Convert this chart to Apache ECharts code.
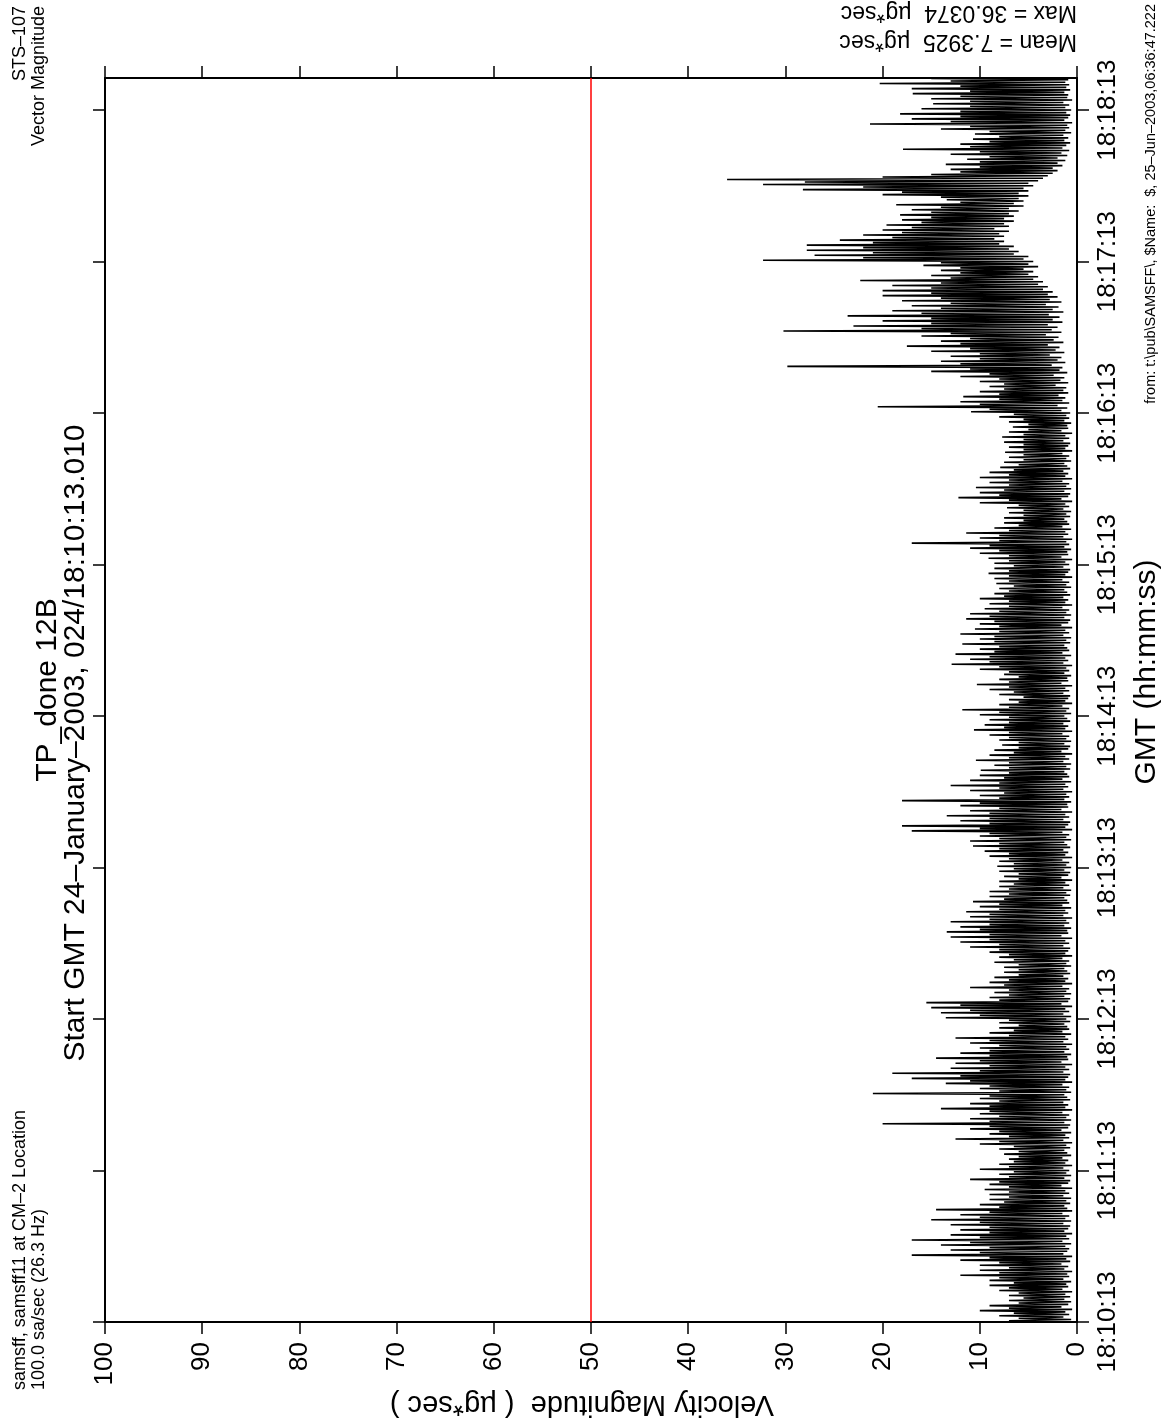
<!DOCTYPE html>
<html><head><meta charset="utf-8">
<script src="https://cdn.jsdelivr.net/npm/echarts@6/dist/echarts.min.js"></script>
<style>html,body{margin:0;padding:0;background:#fff;overflow:hidden}#chart{width:1164px;height:1428px}</style>
</head><body><div id="chart"></div>
<script>
const FONT = '"Liberation Sans", Arial, Helvetica, sans-serif';

// one-second bins (seconds after 18:10:13.010): upper and lower envelope of the 100 sa/sec trace
const binStartSec = 0;
const binWidthSec = 1;
const magnitudeUpper = [
  7, 6, 8, 6.5, 10, 7, 9, 6, 7, 5.5,
  7, 6, 8, 7, 9, 6.5, 9, 8, 12, 8,
  10, 7, 10, 8, 12, 9, 17, 10, 13, 9,
  14, 11, 17, 10, 13, 9, 12, 9, 13, 10,
  15, 10, 12, 9, 14.5, 8, 10, 7.5, 9, 7,
  9, 7, 9.5, 7, 9, 8, 11, 7, 8, 6.5,
  10, 7, 8, 6.5, 7, 6, 7.5, 6, 8, 6.5,
  10, 8, 12.5, 7, 9, 8, 11, 9, 20, 9,
  11, 8, 10, 9, 14, 9, 11, 8, 10, 9,
  21, 8, 10, 9, 13.5, 11, 17, 12, 19, 10,
  13, 9, 12.5, 10, 14.5, 9, 12, 9, 10, 8,
  11, 9, 12.5, 7, 9, 6.5, 8, 6, 8, 7,
  13.5, 10, 14, 11, 15, 12, 15.5, 8, 9, 7,
  8.5, 7, 11, 7.5, 9, 7, 8.5, 6, 7.5, 6,
  7.5, 6, 8.5, 6.5, 8, 7, 9, 8, 11, 8,
  12, 9, 13, 9, 13.4, 10, 12, 9, 13, 9,
  11, 9, 11.4, 8, 10, 8, 10.7, 7.5, 9, 7,
  9, 7, 8, 6.5, 8, 6, 7.5, 6, 8, 6.5,
  8.2, 6.5, 8, 7, 9, 7, 9.5, 8, 10.7, 8,
  11, 8, 10, 9, 17, 10, 18, 9, 12, 9,
  13.4, 9, 11, 8, 12, 10, 18, 8, 10, 7.5,
  11, 8, 13, 8, 11, 7.5, 10, 7, 9.9, 7,
  8.5, 7, 10.4, 7, 9, 6.5, 8.5, 6, 7.7, 6,
  8, 7, 9, 7, 10.6, 7.5, 9.5, 7, 9, 7,
  10, 8, 11.8, 7, 8, 6, 7, 5.5, 8, 6.5,
  9, 7, 10.3, 7, 8, 6, 7.5, 7, 10, 8,
  12.9, 9, 11, 9, 12.5, 8.5, 10, 8, 11.8, 8.5,
  10, 8.5, 12, 8, 10.5, 8, 10, 8.5, 11.4, 9,
  11, 8, 9.5, 7, 9, 7, 10, 7.5, 8.5, 7,
  8, 6.5, 8.3, 7, 8.5, 7, 9.1, 7, 8.5, 6.5,
  8.5, 7, 9.1, 7, 10, 8, 11, 9, 17, 8,
  10, 8, 11.4, 7, 8.5, 6, 7.5, 5.5, 7.5, 5.5,
  7, 5.5, 7.2, 6, 10, 7, 12.2, 8, 10, 7.5,
  10.4, 7, 9, 7, 10, 7, 9, 6.5, 7.9, 6,
  7.5, 5.5, 7, 5.5, 7.4, 5.5, 7, 5.5, 7.5, 5.5,
  7.7, 5.5, 7, 5, 6.6, 5, 7, 5.5, 8, 6.5,
  10.9, 9, 20.5, 10, 12, 8, 11.7, 8, 10, 7.5,
  9, 7.5, 10, 8, 12, 9, 15, 11, 29.8, 12,
  14, 10, 13, 10, 15, 11, 17.5, 12, 14, 11,
  16, 13, 30.2, 16, 23, 15, 20, 15, 23.6, 16,
  19, 14, 17, 13, 18, 14, 20, 15, 20, 15,
  19, 14, 22.3, 13, 15, 12, 14, 12, 15.8, 14,
  32.3, 22, 27, 21, 27.8, 22, 27.8, 21, 24.4, 19,
  22, 18, 20, 17, 19.6, 16, 18, 15, 18.2, 15,
  17, 14, 18.6, 12, 13.4, 14, 20, 18, 28.2, 22,
  32.3, 28, 36, 20, 15, 12, 13, 10, 13.5, 10,
  11.3, 9, 13, 10, 17.9, 11, 12, 9, 10.7, 8,
  10.5, 9, 14, 11, 21.3, 13, 17, 12, 18.2, 12,
  16, 11, 14.8, 11, 15, 12, 16.9, 11, 17, 12,
  20.3, 13, 15
];
const magnitudeLower = [
  1.0, 0.6, 1.4, 0.8, 1.2, 0.5, 1.6, 0.9, 0.6, 1.3,
  0.7, 1.2, 0.5, 1.5, 0.9, 1.1, 0.6, 1.4, 0.8, 1.0,
  0.5, 1.3, 0.9, 1.6, 0.7, 1.1, 0.5, 1.4, 1.0, 0.8,
  1.2, 0.6, 1.5, 0.8, 1.1, 0.5, 1.3, 0.9, 0.7, 1.4,
  0.6, 1.2, 0.8, 1.5, 0.5, 1.0, 1.3, 0.7, 1.1, 0.6,
  1.4, 0.8, 1.2, 0.5, 1.6, 0.9, 0.7, 1.3, 0.6, 1.1,
  0.8, 1.4, 0.5, 1.2, 0.9, 1.5, 0.6, 1.0, 1.3, 0.7,
  1.1, 0.5, 1.4, 0.8, 1.2, 0.6, 1.6, 0.9, 0.7, 1.3,
  0.6, 1.1, 0.8, 1.5, 0.5, 1.2, 0.9, 1.4, 0.7, 1.0,
  1.3, 0.6, 1.1, 0.8, 1.5, 0.5, 1.2, 0.9, 0.7, 1.4,
  0.8, 1.2, 0.5, 1.6, 0.9, 1.0, 0.6, 1.3, 0.8, 1.1,
  0.5, 1.4, 0.9, 1.2, 0.6, 1.5, 0.8, 1.0, 1.3, 0.7,
  1.1, 0.6, 1.4, 0.8, 1.2, 0.5, 1.6, 0.9, 0.7, 1.3,
  0.6, 1.1, 0.8, 1.5, 0.5, 1.2, 0.9, 1.4, 0.7, 1.0,
  1.3, 0.6, 1.1, 0.8, 1.5, 0.5, 1.2, 0.9, 0.7, 1.4,
  0.8, 1.2, 0.5, 1.6, 0.9, 1.0, 0.6, 1.3, 0.8, 1.1,
  0.5, 1.4, 0.9, 1.2, 0.6, 1.5, 0.8, 1.0, 1.3, 0.7,
  1.1, 0.6, 1.4, 0.8, 1.2, 0.5, 1.6, 0.9, 0.7, 1.3,
  0.6, 1.1, 0.8, 1.5, 0.5, 1.2, 0.9, 1.4, 0.7, 1.0,
  1.3, 0.6, 1.1, 0.8, 1.5, 0.5, 1.2, 0.9, 0.7, 1.4,
  0.8, 1.2, 0.5, 1.6, 0.9, 1.0, 0.6, 1.3, 0.8, 1.1,
  0.5, 1.4, 0.9, 1.2, 0.6, 1.5, 0.8, 1.0, 1.3, 0.7,
  1.1, 0.6, 1.4, 0.8, 1.2, 0.5, 1.6, 0.9, 0.7, 1.3,
  0.6, 1.1, 0.8, 1.5, 0.5, 1.2, 0.9, 1.4, 0.7, 1.0,
  1.3, 0.6, 1.1, 0.8, 1.5, 0.5, 1.2, 0.9, 0.7, 1.4,
  0.8, 1.2, 0.5, 1.6, 0.9, 1.0, 0.6, 1.3, 0.8, 1.1,
  0.5, 1.4, 0.9, 1.2, 0.6, 1.5, 0.8, 1.0, 1.3, 0.7,
  1.1, 0.6, 1.4, 0.8, 1.2, 0.5, 1.6, 0.9, 0.7, 1.3,
  0.6, 1.1, 0.8, 1.5, 0.5, 1.2, 0.9, 1.4, 0.7, 1.0,
  1.3, 0.6, 1.1, 0.8, 1.5, 0.5, 1.2, 0.9, 0.7, 1.4,
  0.8, 1.2, 0.5, 1.6, 0.9, 1.0, 0.6, 1.3, 0.8, 1.1,
  0.5, 1.4, 0.9, 1.2, 0.6, 1.5, 0.8, 1.0, 1.3, 0.7,
  1.1, 0.6, 1.4, 0.8, 1.2, 0.5, 1.6, 0.9, 0.7, 1.3,
  0.6, 1.1, 0.8, 1.5, 0.5, 1.2, 0.9, 1.4, 0.7, 1.0,
  1.3, 0.6, 1.1, 0.8, 1.5, 0.5, 1.2, 0.9, 0.7, 1.4,
  0.8, 1.2, 0.5, 1.6, 0.9, 1.0, 0.6, 1.3, 0.8, 1.1,
  0.7, 1.6, 1.0, 2.0, 0.8, 1.5, 1.2, 1.9, 0.9, 1.4,
  1.1, 2.2, 0.9, 1.7, 1.3, 2.4, 1.0, 1.8, 1.5, 2.6,
  1.2, 2.0, 1.6, 2.8, 1.3, 2.2, 1.8, 3.0, 1.4, 2.4,
  1.9, 3.2, 1.6, 2.6, 2.0, 3.0, 1.5, 2.5, 1.8, 2.9,
  1.4, 2.5, 1.9, 3.2, 1.6, 2.8, 2.0, 3.0, 2.5, 3.5,
  3.0, 4.0, 3.5, 4.5, 4.0, 5.0, 4.5, 5.5, 4.0, 5.0,
  4.5, 5.5, 5.0, 6.5, 6.0, 7.0, 6.5, 8.0, 7.5, 8.5,
  7.5, 8.0, 7.0, 8.5, 7.0, 7.5, 6.5, 7.5, 6.5, 7.0,
  6.0, 7.0, 5.5, 6.5, 5.5, 6.0, 5.0, 6.0, 5.0, 5.5,
  4.5, 5.0, 4.0, 3.5, 3.0, 2.5, 2.0, 2.5, 1.5, 2.0,
  1.2, 2.0, 1.0, 1.6, 0.8, 1.5, 1.1, 0.7, 1.3, 0.9,
  1.4, 0.6, 1.2, 0.8, 1.0, 0.5, 1.3, 0.9, 0.7, 1.1,
  0.6, 1.2, 0.8, 1.4, 0.5, 1.0, 0.9, 1.3, 0.7, 1.1,
  0.8, 1.2, 0.9
];

const valueMin = 0, valueMax = 100, valueStep = 10;
const timeMaxSec = 492.7;
const timeTickSec = [0, 60, 120, 180, 240, 300, 360, 420, 480];
const timeTickLabels = ['18:10:13', '18:11:13', '18:12:13', '18:13:13', '18:14:13', '18:15:13', '18:16:13', '18:17:13', '18:18:13'];
const thresholdValue = 50;

const titleLines = ['TP_done 12B', 'Start GMT 24\u2013January\u20132003, 024/18:10:13.010'];
const headerLeft = ['samsff, samsff11 at CM\u20132 Location', '100.0 sa/sec (26.3 Hz)'];
const headerRight = ['STS\u2013107', 'Vector Magnitude'];
const footerText = 'from: t:\\pub\\SAMSFF\\, $Name:  $, 25\u2013Jun\u20132003,06:36:47.222';
const statsText = ['Mean = 7.3925  \u00b5g*sec', 'Max = 36.0374  \u00b5g*sec'];
const xName = 'GMT (hh:mm:ss)';
const yName = 'Velocity Magnitude  ( \u00b5g*sec )';

const trace = [];
for (let i = 0; i < magnitudeUpper.length; i++) {
  const t = binStartSec + i * binWidthSec;
  trace.push([magnitudeLower[i], t]);
  trace.push([magnitudeUpper[i], t + binWidthSec / 2]);
}

const chart = echarts.init(document.getElementById('chart'), null, {renderer: 'canvas'});
const axisLine = {show: true, onZero: false, lineStyle: {color: '#000', width: 2}};
const tick = {show: true, inside: false, length: 12, lineStyle: {color: '#000', width: 1.5}};
function valAxis(pos, labels) {
  return {
    type: 'value', position: pos, inverse: true, min: valueMin, max: valueMax, interval: valueStep,
    axisLine: axisLine, axisTick: tick, splitLine: {show: false},
    axisLabel: labels ? {show: true, rotate: 90, align: 'right', verticalAlign: 'middle', margin: 20,
      fontSize: 26, color: '#000', fontFamily: FONT} : {show: false}
  };
}
function timeAxis(pos, labels) {
  return {
    type: 'value', position: pos, min: 0, max: timeMaxSec,
    axisLine: axisLine, splitLine: {show: false},
    axisTick: Object.assign({}, tick, {customValues: timeTickSec}),
    axisLabel: labels ? {show: true, customValues: timeTickSec, rotate: 90, align: 'center', verticalAlign: 'top',
      margin: 18, fontSize: 26, color: '#000', fontFamily: FONT,
      formatter: v => timeTickLabels[timeTickSec.indexOf(v)] || ''} : {show: false}
  };
}
function txt(text, x, y, rot, size, align, valign) {
  return {type: 'text', x: x, y: y, rotation: rot, silent: true,
    style: {text: text, fontSize: size, fontFamily: FONT, fill: '#000',
      align: align, verticalAlign: valign, textAlign: align, textVerticalAlign: valign}};
}
const R = Math.PI / 2;
chart.setOption({
  animation: false,
  backgroundColor: '#fff',
  grid: {left: 105, right: 87, top: 78, bottom: 106, containLabel: false},
  xAxis: [valAxis('bottom', true), valAxis('top', false)],
  yAxis: [timeAxis('right', true), timeAxis('left', false)],
  series: [{
    type: 'line', xAxisIndex: 0, yAxisIndex: 0, data: trace, showSymbol: false, symbol: 'none',
    lineStyle: {color: '#000', width: 1.6}, clip: true, silent: true,
    markLine: {silent: true, symbol: ['none', 'none'], label: {show: false},
      lineStyle: {color: '#ff0000', width: 1.5, type: 'solid'},
      data: [{xAxis: thresholdValue}]}
  }],
  graphic: [
    txt(titleLines[0], 48, 690, R, 30, 'center', 'middle'),
    txt(titleLines[1], 76, 743, R, 30, 'center', 'middle'),
    txt(headerLeft[0], 20, 1390, R, 18, 'left', 'middle'),
    txt(headerLeft[1], 39, 1390, R, 18, 'left', 'middle'),
    txt(headerRight[0], 20, 6, R, 18, 'right', 'middle'),
    txt(headerRight[1], 39, 6, R, 18, 'right', 'middle'),
    txt(footerText, 1151, 4, R, 14.5, 'right', 'middle'),
    txt(xName, 1147, 672, R, 30, 'center', 'middle'),
    txt(yName, 582, 1404, Math.PI, 29, 'center', 'middle'),
    txt(statsText[0], 1077, 41, Math.PI, 23, 'left', 'middle'),
    txt(statsText[1], 1077, 12, Math.PI, 23, 'left', 'middle')
  ]
});
</script></body></html>
